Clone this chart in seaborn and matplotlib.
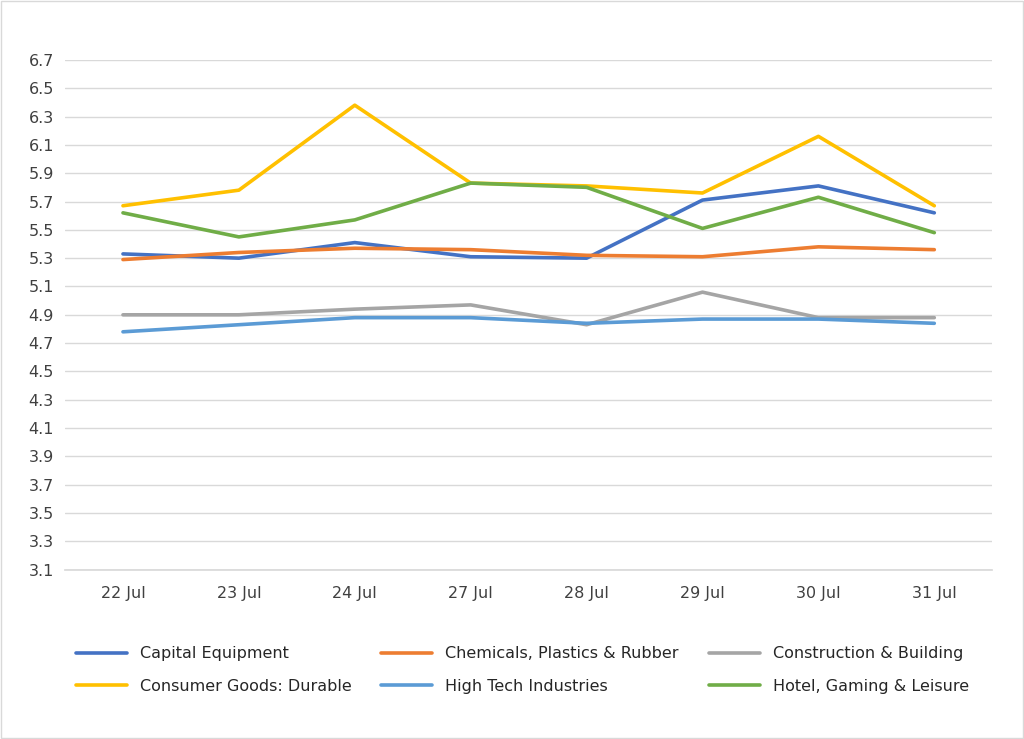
import matplotlib
matplotlib.use("Agg")
import matplotlib.pyplot as plt
import seaborn as sns
import pandas as pd
import numpy as np

dates = ["22 Jul", "23 Jul", "24 Jul", "27 Jul", "28 Jul", "29 Jul", "30 Jul", "31 Jul"]
capital = [5.33, 5.30, 5.41, 5.31, 5.30, 5.71, 5.81, 5.62]
chemicals = [5.29, 5.34, 5.37, 5.36, 5.32, 5.31, 5.38, 5.36]
construction = [4.90, 4.90, 4.94, 4.97, 4.83, 5.06, 4.88, 4.88]
consumer = [5.67, 5.78, 6.38, 5.83, 5.81, 5.76, 6.16, 5.67]
hightech = [4.78, 4.83, 4.88, 4.88, 4.84, 4.87, 4.87, 4.84]
hotel = [5.62, 5.45, 5.57, 5.83, 5.80, 5.51, 5.73, 5.48]

series = {
    "Capital Equipment": capital,
    "Chemicals, Plastics & Rubber": chemicals,
    "Construction & Building": construction,
    "Consumer Goods: Durable": consumer,
    "High Tech Industries": hightech,
    "Hotel, Gaming & Leisure": hotel,
}
colors = ["#4472C4", "#ED7D31", "#A5A5A5", "#FFC000", "#5B9BD5", "#70AD47"]

rows = []
for name, vals in series.items():
    for i, (d, v) in enumerate(zip(dates, vals)):
        rows.append({"idx": i, "date": d, "series": name, "value": v})
df = pd.DataFrame(rows)

sns.set_theme(style="white")
plt.rcParams["font.family"] = ["DejaVu Sans"]
fig = plt.figure(figsize=(10.24, 7.39), dpi=100)
fig.patches.append(plt.Rectangle((0.001, 0.001), 0.998, 0.998, transform=fig.transFigure,
                                 fill=False, edgecolor="#D9D9D9", linewidth=1))
ax = fig.add_axes([0.0635, 0.229, 0.9055, 0.69])
sns.lineplot(data=df, x="idx", y="value", hue="series", palette=colors,
             linewidth=2.6, ax=ax, legend=True)
ax.set_xlim(-0.5, len(dates) - 0.5)
ax.set_ylim(3.1, 6.7)
ax.set_yticks(np.round(np.arange(3.1, 6.71, 0.2), 1))
ax.set_yticklabels([f"{t:.1f}" for t in np.arange(3.1, 6.71, 0.2)], fontsize=11.5, color="#404040")
ax.set_xticks(range(len(dates)))
ax.set_xticklabels(dates, fontsize=11.5, color="#404040")
ax.tick_params(axis="y", length=0, pad=8)
ax.tick_params(axis="x", length=0, pad=12)
ax.grid(axis="y", color="#D9D9D9", linewidth=1)
ax.set_axisbelow(True)
for s in ["top", "right", "left"]:
    ax.spines[s].set_visible(False)
ax.spines["bottom"].set_color("#D9D9D9")
ax.set_xlabel("")
ax.set_ylabel("")
h, l = ax.get_legend_handles_labels()
ax.get_legend().remove()
order = [0, 3, 1, 4, 2, 5]
fig.legend([h[i] for i in order], [l[i] for i in order], loc="upper left",
           bbox_to_anchor=(0.06, 0.145, 0.9, 0.0), ncol=3,
           frameon=False, fontsize=11.5, mode="expand", handlelength=3.2,
           labelspacing=1.1, columnspacing=1.0)
fig.savefig("out.png", dpi=100)
